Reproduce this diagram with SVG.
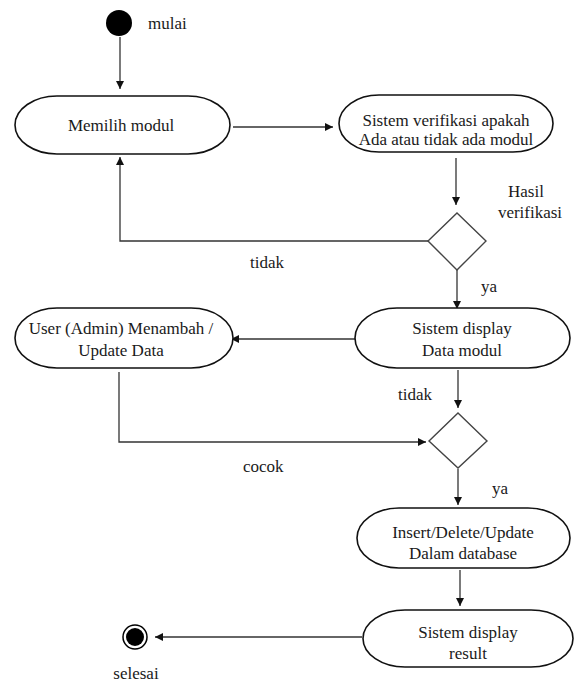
<svg xmlns="http://www.w3.org/2000/svg" width="585" height="684" viewBox="0 0 585 684">
  <style>
    .bg { fill: #ffffff; }
    .act { fill: #ffffff; stroke: #111111; stroke-width: 1.6; }
    .dec { fill: #ffffff; stroke: #444444; stroke-width: 1.4; }
    .lbl { font-family: "Liberation Serif", "Times New Roman", serif; font-size: 17px; fill: #1a1a1a; }
    .mid { text-anchor: middle; }
    .edge { fill: none; stroke: #333333; stroke-width: 1.3; }
  </style>
  <defs>
    <marker id="arrow" viewBox="0 0 10 10" refX="10" refY="5" markerWidth="8" markerHeight="8" markerUnits="userSpaceOnUse" orient="auto">
      <path d="M0,0 L10,5 L0,10 z" fill="#111111"/>
    </marker>
  </defs>
  <rect class="bg" x="0" y="0" width="585" height="684"/>

  <!-- connectors -->
  <g id="connectors">
    <line class="edge" x1="120" y1="37" x2="120" y2="89" marker-end="url(#arrow)"/>
    <line class="edge" x1="233" y1="127" x2="333" y2="127" marker-end="url(#arrow)"/>
    <line class="edge" x1="456" y1="158" x2="456" y2="205" marker-end="url(#arrow)"/>
    <polyline class="edge" points="428,241 120,241 120,157" marker-end="url(#arrow)"/>
    <line class="edge" x1="457" y1="270" x2="457" y2="309" marker-end="url(#arrow)"/>
    <line class="edge" x1="355" y1="339" x2="231" y2="339" marker-end="url(#arrow)"/>
    <polyline class="edge" points="119,372 119,442 426,442" marker-end="url(#arrow)"/>
    <line class="edge" x1="458" y1="370" x2="458" y2="408" marker-end="url(#arrow)"/>
    <line class="edge" x1="458" y1="469" x2="458" y2="505" marker-end="url(#arrow)"/>
    <line class="edge" x1="460" y1="570" x2="460" y2="606" marker-end="url(#arrow)"/>
    <line class="edge" x1="362" y1="637" x2="155" y2="637" marker-end="url(#arrow)"/>
  </g>

  <!-- start node -->
  <g id="start">
    <circle cx="119" cy="23" r="13" fill="#000000"/>
    <text class="lbl" x="148" y="29">mulai</text>
  </g>

  <g id="memilih-modul">
    <rect class="act" x="15" y="96" width="215" height="58" rx="42" ry="29"/>
    <text class="lbl mid" x="121" y="131">Memilih modul</text>
  </g>

  <g id="sistem-verifikasi">
    <rect class="act" x="339" y="95" width="214" height="57" rx="40" ry="28.5"/>
    <text class="lbl mid" x="446" y="126">Sistem verifikasi apakah</text>
    <text class="lbl mid" x="446" y="145">Ada atau tidak ada modul</text>
  </g>

  <g id="keputusan-verifikasi">
    <polygon class="dec" points="457,213 486,241 457,270 428,241"/>
    <text class="lbl mid" x="526" y="197">Hasil</text>
    <text class="lbl mid" x="530" y="218">verifikasi</text>
    <text class="lbl" x="250" y="268">tidak</text>
    <text class="lbl" x="481" y="292">ya</text>
  </g>

  <g id="sistem-display-data">
    <rect class="act" x="355" y="308" width="215" height="60" rx="42" ry="30"/>
    <text class="lbl mid" x="462" y="334">Sistem display</text>
    <text class="lbl mid" x="462" y="356">Data modul</text>
  </g>

  <g id="user-admin">
    <rect class="act" x="15" y="308" width="218" height="60" rx="42" ry="30"/>
    <text class="lbl mid" x="121" y="334">User (Admin) Menambah /</text>
    <text class="lbl mid" x="121" y="356">Update Data</text>
  </g>

  <g id="keputusan-data">
    <polygon class="dec" points="458,413 487,441 458,468 429,441"/>
    <text class="lbl" x="398" y="400">tidak</text>
    <text class="lbl" x="243" y="472">cocok</text>
    <text class="lbl" x="492" y="494">ya</text>
  </g>

  <g id="insert-delete-update">
    <rect class="act" x="357" y="508" width="213" height="60" rx="42" ry="30"/>
    <text class="lbl mid" x="463" y="538">Insert/Delete/Update</text>
    <text class="lbl mid" x="463" y="559">Dalam database</text>
  </g>

  <g id="sistem-display-result">
    <rect class="act" x="363" y="610" width="210" height="57" rx="42" ry="28.5"/>
    <text class="lbl mid" x="468" y="638">Sistem display</text>
    <text class="lbl mid" x="468" y="659">result</text>
  </g>

  <!-- end node -->
  <g id="end">
    <circle cx="135" cy="637" r="12" fill="#ffffff" stroke="#000000" stroke-width="1.5"/>
    <circle cx="135" cy="637" r="9" fill="#000000"/>
    <text class="lbl mid" x="136" y="679">selesai</text>
  </g>
</svg>
